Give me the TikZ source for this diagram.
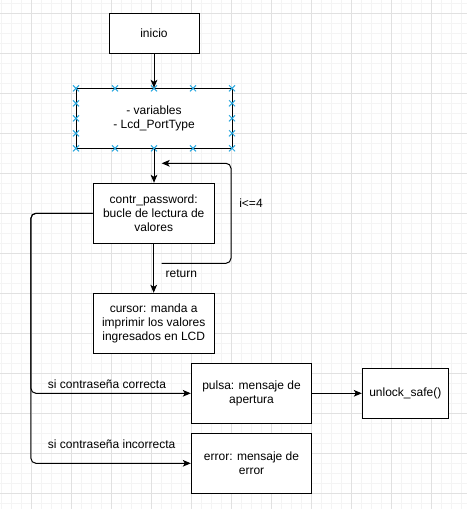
\documentclass[tikz,border=0pt]{standalone}
\usepackage{fontspec}
\setmainfont{Liberation Sans}
\usetikzlibrary{arrows.meta}

\begin{document}
\begin{tikzpicture}[x=0.75pt,y=0.75pt,yscale=-1,xscale=1,
    caja/.style={draw=black, line width=0.75pt, fill=white, align=center, inner sep=0pt,
      font=\fontsize{9pt}{10.3pt}\selectfont},
    texto/.style={inner sep=0pt, font=\fontsize{9pt}{10.3pt}\selectfont},
    flecha/.style={draw=black, line width=0.75pt, -{Stealth[length=6pt,width=5pt,inset=1.5pt]}},
    linea/.style={draw=black, line width=0.75pt},
    asa/.style={draw={rgb,255:red,41;green,168;blue,224}, line width=0.75pt}]
  \useasboundingbox (0,0) rectangle (467,509);

  % Grid
  \fill[white] (0,0) rectangle (467,509);
  \foreach \gx in {1.5,11.5,...,461.5} \draw[color={rgb,255:red,244;green,244;blue,244}, line width=0.75pt] (\gx,0) -- (\gx,509);
  \foreach \gy in {3.3,13.3,...,503.3} \draw[color={rgb,255:red,244;green,244;blue,244}, line width=0.75pt] (0,\gy) -- (467,\gy);
  \foreach \gx in {31.5,71.5,...,431.5} \draw[color={rgb,255:red,225;green,225;blue,225}, line width=0.75pt] (\gx,0) -- (\gx,509);
  \foreach \gy in {13.3,53.3,...,493.3} \draw[color={rgb,255:red,225;green,225;blue,225}, line width=0.75pt] (0,\gy) -- (467,\gy);

  % Boxes
  \node[caja, minimum width=67.5pt, minimum height=30pt] (inicio) at (154,33.3) {inicio};
  \node[caja, minimum width=117pt, minimum height=45pt] (vars) at (154,118.3) {- variables\\- Lcd\_PortType};
  \node[caja, minimum width=90.75pt, minimum height=45pt] (contr) at (153.7,213.3) {contr\_password:\\bucle de lectura de\\valores};
  \node[caja, minimum width=90.75pt, minimum height=45pt] (cursor) at (153.7,323.3) {cursor: manda a\\imprimir los valores\\ingresados en LCD};
  \node[caja, minimum width=90.3pt, minimum height=45pt] (pulsa) at (251.5,393.3) {pulsa: mensaje de\\apertura};
  \node[caja, minimum width=90.3pt, minimum height=45pt] (error) at (251.5,463.3) {error: mensaje de\\error};
  \node[caja, minimum width=64.5pt, minimum height=37.5pt] (unlock) at (405.3,393.3) {unlock\_safe()};

  % Handles
  \foreach \hx in {76,115,154,193,232} {
    \foreach \hy in {88.3,148.3} \draw[asa] (\hx-3,\hy-3) -- (\hx+3,\hy+3) (\hx-3,\hy+3) -- (\hx+3,\hy-3);
  }
  \foreach \hx in {76,232} {
    \foreach \hy in {103.3,118.3,133.3} \draw[asa] (\hx-3,\hy-3) -- (\hx+3,\hy+3) (\hx-3,\hy+3) -- (\hx+3,\hy-3);
  }

  % Connectors
  \draw[flecha] (inicio) -- (vars);
  \draw[flecha] (vars.south) -- (vars.south |- contr.north);
  \draw[flecha] (contr) -- (cursor);
  \coordinate (loopIni) at (161.7,263.3);
  \coordinate (loopFin) at (161.7,163.3);
  \draw[flecha, rounded corners=3.75pt] (loopIni) -- ++(69.3,0) |- (loopFin);
  \draw[flecha, rounded corners=3.75pt] (contr.west) -- ++(-61.8,0) |- (pulsa.west);
  \draw[flecha, rounded corners=3.75pt] (contr.west) -- ++(-61.8,0) |- (error.west);
  \draw[flecha] (pulsa) -- (unlock);

  % Text Node
  \node[texto] (cond) at (251,203.3) {i<=4};
  \node[texto] (ret) at (181.3,274) {return};
  \node[texto, anchor=west] (ok) at (47.7,384) {si contraseña correcta};
  \node[texto, anchor=west] (mal) at (47.7,444) {si contraseña incorrecta};
\end{tikzpicture}
\end{document}
